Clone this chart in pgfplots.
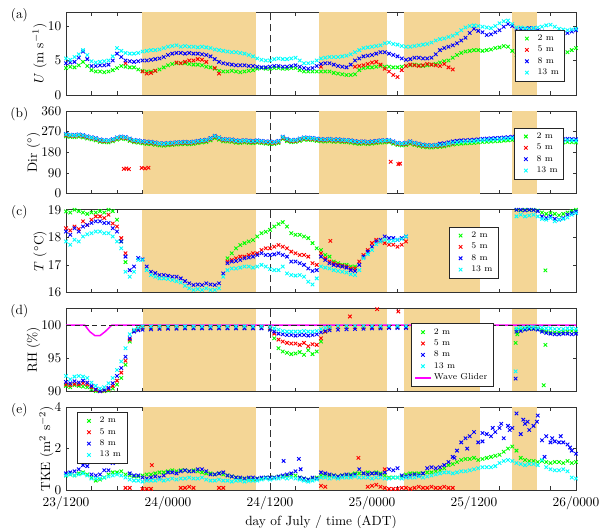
\documentclass[border=0pt]{standalone}
\usepackage{pgfplots}
\pgfplotsset{compat=1.18}
\usepackage{pgfplotstable}
\definecolor{shade}{RGB}{244,214,150}
\definecolor{mgreen}{RGB}{0,255,0}
\definecolor{mred}{RGB}{255,0,0}
\definecolor{mblue}{RGB}{0,0,255}
\definecolor{mcyan}{RGB}{0,255,255}
\definecolor{mmag}{RGB}{255,0,255}

\pgfplotstableread{
h g r b c
0 3.9 nan 4.6 5.3
0.5 4.1 nan 4.7 5.1
1 4.0 nan 4.8 5.5
1.5 4.3 nan 5.4 5.9
2 4.8 nan 6.3 6.5
2.5 4.2 nan 5.2 5.8
3 3.6 nan 4.2 4.9
3.5 3.4 nan 4.2 4.7
4 3.4 nan 4.3 4.8
4.5 3.3 nan 4.3 4.9
5 3.4 nan 4.4 5.0
5.5 3.6 nan 5.0 5.6
6 3.9 nan 6.0 6.8
6.5 4.2 nan 5.5 6.4
7 4.1 4.6 5.0 6.1
7.5 4.0 nan 4.9 6.0
8 4.0 nan 4.8 6.0
8.5 3.7 nan 4.9 6.1
9 3.5 3.4 5.0 6.3
9.5 3.4 3.1 5.0 6.4
10 3.4 3.2 5.1 6.5
10.5 3.5 3.5 5.2 6.5
11 3.7 nan 5.3 6.6
11.5 4.0 nan 5.5 6.8
12 4.3 nan 5.8 7.0
12.5 4.5 nan 6.0 7.1
13 4.6 4.7 6.1 7.2
13.5 4.6 4.6 6.1 7.0
14 4.6 4.8 6.0 7.1
14.5 4.5 5.0 6.1 7.0
15 4.4 5.0 6.0 7.0
15.5 4.4 5.2 6.0 6.9
16 4.3 5.1 5.9 7.0
16.5 4.1 4.8 5.8 6.9
17 4.0 nan 5.6 6.8
17.5 3.8 3.9 5.2 6.6
18 3.5 3.1 4.8 6.5
18.5 3.4 nan 4.6 6.4
19 3.4 nan 4.5 6.3
19.5 3.5 nan 4.4 6.2
20 3.4 nan 4.3 6.2
20.5 3.3 nan 4.3 6.1
21 3.4 nan 4.3 6.0
21.5 3.5 nan 4.2 5.8
22 3.6 nan 4.2 5.6
22.5 3.8 nan 4.1 5.3
23 3.9 nan 4.0 5.1
23.5 3.8 nan 4.0 5.0
24 3.8 nan 4.1 5.0
24.5 3.9 nan 4.2 5.2
25 3.9 nan 4.2 5.3
25.5 3.8 nan 4.1 5.2
26 3.8 nan 4.1 5.2
26.5 3.9 nan 4.2 5.3
27 3.9 nan 4.3 5.4
27.5 3.6 nan 4.1 5.0
28 3.4 nan 3.9 4.6
28.5 3.4 nan 3.8 4.6
29 3.4 nan 3.9 4.7
29.5 3.4 nan 4.2 5.0
30 3.4 4.1 4.5 5.3
30.5 3.4 nan 4.6 5.4
31 3.4 nan 4.6 5.5
31.5 3.2 nan 4.4 5.5
32 3.1 nan 4.2 5.5
32.5 3.0 nan 4.1 5.6
33 2.9 nan 4.0 5.7
33.5 2.9 nan 4.4 5.9
34 3.0 4.1 5.0 6.2
34.5 3.6 4.2 5.3 6.5
35 3.9 4.3 5.6 6.8
35.5 4.0 4.5 5.7 6.9
36 4.0 4.7 5.8 7.0
36.5 4.1 4.8 6.0 7.1
37 4.2 4.4 6.2 7.2
37.5 4.1 3.8 6.2 7.5
38 4.1 3.4 6.0 7.6
38.5 4.0 2.9 5.8 7.4
39 4.0 2.6 5.6 7.3
39.5 4.1 3.6 5.3 7.1
40 4.2 4.2 5.1 7.0
40.5 4.3 4.4 5.2 7.0
41 4.4 4.3 5.4 7.1
41.5 4.3 4.2 5.4 7.2
42 4.2 4.3 5.3 7.3
42.5 4.3 4.5 5.3 7.4
43 4.4 4.4 5.4 7.6
43.5 4.5 4.3 5.9 7.9
44 4.7 4.2 6.5 8.1
44.5 4.9 4.5 6.8 8.2
45 5.0 4.0 7.0 8.4
45.5 5.4 3.7 7.2 8.6
46 5.8 nan 7.5 8.9
46.5 6.1 nan 7.9 9.4
47 6.3 nan 8.3 9.8
47.5 6.4 nan 9.0 10.0
48 6.5 nan 9.6 10.1
48.5 6.5 nan 9.3 10.0
49 6.4 nan 9.1 9.9
49.5 6.5 nan 8.7 9.8
50 6.6 nan 8.8 9.7
50.5 6.8 nan 9.1 10.0
51 6.9 nan 9.4 10.4
51.5 7.1 nan 9.9 10.7
52 7.0 nan 10.3 10.8
52.5 6.4 nan 10.0 10.3
53 5.8 nan 9.5 9.8
53.5 5.7 nan 9.6 9.8
54 5.7 nan 9.6 9.7
54.5 5.6 nan 9.7 9.6
55 5.5 nan 9.7 9.7
55.5 5.4 nan 9.4 9.8
56 5.3 nan 9.2 9.9
56.5 5.4 nan 9.1 10.1
57 5.5 nan 9.0 10.2
57.5 5.6 nan 8.9 9.9
58 5.7 nan 8.8 9.6
58.5 6.0 nan 8.9 9.5
59 6.2 nan 9.0 9.4
59.5 6.5 nan 9.2 9.5
60 6.8 nan 9.4 9.6
}\tabA

\pgfplotstableread{
h g r b c
0 250 255 260 258
0.5 247 252 257 255
1 246 251 256 254
1.5 248 253 258 256
2 245 250 255 253
2.5 240 245 250 248
3 236 241 246 244
3.5 232 237 242 240
4 226 231 236 234
4.5 224 229 234 232
5 223 228 233 231
5.5 228 233 238 236
6 235 240 245 243
6.5 239 244 249 247
7 237 242 247 245
7.5 230 235 240 238
8 224 229 234 232
8.5 222 227 232 230
9 219 224 229 227
9.5 217 222 227 225
10 216 221 226 224
10.5 213 218 223 221
11 210 215 220 218
11.5 209 214 219 217
12 211 216 221 219
12.5 212 217 222 220
13 214 219 224 222
13.5 215 220 225 223
14 216 221 226 224
14.5 215 220 225 223
15 217 222 227 225
15.5 220 225 230 228
16 223 228 233 231
16.5 225 230 235 233
17 232 237 242 240
17.5 242 247 252 250
18 235 240 245 243
18.5 228 233 238 236
19 227 232 237 235
19.5 226 231 236 234
20 222 227 232 230
20.5 221 226 231 229
21 223 228 233 231
21.5 221 226 231 229
22 220 225 230 228
22.5 222 227 232 230
23 220 225 230 228
23.5 218 223 228 226
24 217 222 227 225
24.5 216 221 226 224
25 220 225 230 228
25.5 238 243 248 246
26 229 234 239 237
26.5 224 229 234 232
27 225 230 235 233
27.5 230 235 240 238
28 235 240 245 243
28.5 234 239 244 242
29 233 238 243 241
29.5 230 235 240 238
30 228 233 238 236
30.5 227 232 237 235
31 229 234 239 237
31.5 226 231 236 234
32 227 232 237 235
32.5 225 230 235 233
33 224 229 234 232
33.5 222 227 232 230
34 219 224 229 227
34.5 217 222 227 225
35 218 223 228 226
35.5 216 221 226 224
36 218 223 228 226
36.5 220 225 230 228
37 222 227 232 230
37.5 223 228 233 231
38 224 229 234 232
38.5 218 223 228 226
39 212 217 222 220
39.5 210 215 220 218
40 212 217 222 220
40.5 218 223 228 226
41 212 217 222 220
41.5 208 213 218 216
42 204 209 214 212
42.5 202 207 212 210
43 201 206 211 209
43.5 203 208 213 211
44 204 209 218 212
44.5 206 211 220 214
45 210 215 224 218
45.5 214 219 228 222
46 216 nan 230 224
46.5 218 nan 232 226
47 219 nan 233 227
47.5 220 nan 234 228
48 221 nan 235 229
48.5 223 nan 237 231
49 225 nan 239 233
49.5 226 nan 240 234
50 227 nan 241 235
50.5 228 nan 242 236
51 229 nan 243 237
51.5 231 nan 245 239
52 232 nan 246 240
52.5 234 nan 248 242
53 235 nan 249 243
53.5 236 nan 250 244
54 236 nan 250 244
54.5 235 nan 249 243
55 234 nan 248 242
55.5 232 nan 246 240
56 228 nan 242 236
56.5 226 nan 240 234
57 225 nan 239 233
57.5 224 nan 238 232
58 224 nan 238 232
58.5 223 nan 237 231
59 225 nan 239 233
59.5 224 nan 238 232
60 223 nan 237 231
}\tabB

\pgfplotstableread{
h g r b c
0 18.94 18.33 18.21 17.85
0.5 18.9 18.25 18.09 17.73
1 19.0 18.39 18.33 17.91
1.5 18.95 18.3 18.21 17.85
2 18.9 18.58 18.39 18.03
2.5 18.85 18.45 18.45 18.11
3 18.9 18.64 18.52 18.15
3.5 18.9 18.76 18.58 18.21
4 18.95 18.76 18.58 18.21
4.5 18.9 18.7 18.52 18.15
5 19.0 18.82 18.52 18.15
5.5 18.95 18.5 18.33 18.03
6 18.64 18.39 18.21 17.85
6.5 17.85 17.97 17.85 17.6
7 17.1 17.42 17.3 16.75
7.5 nan nan 16.81 16.57
8 nan nan 16.94 16.75
8.5 nan nan 17.25 17.18
9 nan nan 17.2 17.18
9.5 nan nan 16.94 16.81
10 nan nan 16.75 16.63
10.5 nan nan 16.7 16.57
11 nan nan 16.63 16.51
11.5 nan nan 16.63 16.51
12 nan nan 16.6 16.49
12.5 nan nan 16.57 16.45
13 nan nan 16.57 16.41
13.5 nan nan 16.51 16.36
14 nan nan 16.41 16.24
14.5 nan nan 16.33 16.15
15 nan nan 16.27 16.09
15.5 nan nan 16.29 16.12
16 nan nan 16.27 16.09
16.5 nan nan 16.33 16.15
17 nan nan 16.29 16.09
17.5 nan nan 16.27 16.09
18 nan nan 16.33 16.15
18.5 nan nan 16.69 16.57
19 17.24 17.12 17.06 16.81
19.5 17.42 17.18 17.12 16.87
20 17.6 17.24 17.14 16.87
20.5 17.72 17.3 17.18 16.9
21 17.79 17.3 17.24 16.94
21.5 17.85 17.36 17.27 16.94
22 17.9 17.42 17.3 16.9
22.5 18.03 17.42 17.36 16.94
23 18.15 17.54 17.42 17.0
23.5 18.2 17.6 17.36 16.94
24 18.27 17.6 17.36 16.85
24.5 18.39 17.66 17.38 16.81
25 18.48 17.72 17.42 16.81
25.5 18.55 17.66 17.36 16.94
26 18.39 17.6 17.3 16.69
26.5 18.15 17.48 17.12 16.63
27 18.09 17.42 17.12 16.61
27.5 18.09 17.36 17.06 16.63
28 18.03 17.36 17.0 16.57
28.5 17.97 17.3 16.87 16.39
29 17.79 17.06 16.78 16.29
29.5 17.6 17.0 16.81 16.51
30 17.54 17.42 17.3 16.94
30.5 17.36 17.24 17.18 16.9
31 17.3 17.12 17.06 16.87
31.5 17.12 17.06 17.0 16.81
32 17.06 17.0 16.97 16.78
32.5 17.0 16.97 16.94 16.75
33 17.0 16.94 16.9 16.72
33.5 16.94 16.87 16.81 16.66
34 16.94 16.87 16.78 16.63
34.5 nan 17.12 17.0 16.81
35 nan 17.36 17.3 17.24
35.5 nan 17.54 17.48 17.39
36 nan 17.79 17.66 17.54
36.5 nan 17.91 17.85 17.75
37 nan 17.85 17.91 17.85
37.5 nan 17.79 18.03 17.91
38 nan 17.73 17.97 17.85
38.5 nan 17.73 17.97 17.88
39 nan 17.66 17.91 17.91
39.5 nan 17.73 17.97 17.94
40 nan 17.85 18.03 18.03
53 19.0 nan 19.0 18.76
53.5 18.98 nan 19.0 18.82
54 19.0 nan 18.98 18.76
54.5 18.99 nan 19.0 18.79
55 19.0 nan 18.99 18.82
55.5 18.97 nan 18.95 18.76
56 18.9 nan 18.76 18.67
56.5 18.85 nan 18.7 18.64
57 18.88 nan 18.76 18.7
57.5 18.85 nan 18.67 18.58
58 18.8 nan 18.64 18.64
58.5 18.85 nan 18.7 18.67
59 18.9 nan 18.82 18.72
59.5 18.95 nan 18.88 18.82
60 19.0 nan 18.94 18.88
}\tabC

\pgfplotstableread{
h g r b c
0 90.8 91.0 91.4 92.3
0.5 90.6 90.9 91.2 91.8
1 90.9 91.1 91.5 92.2
1.5 90.8 91.0 91.3 92.3
2 90.7 91.2 91.6 92.2
2.5 90.6 91.0 91.3 92.0
3 90.3 90.6 90.8 91.3
3.5 90.0 90.2 90.3 90.8
4 89.9 90.0 90.0 90.4
4.5 90.0 90.1 90.2 90.6
5 90.1 90.3 90.5 91.2
5.5 90.4 90.8 91.2 92.0
6 91.0 91.6 92.3 93.2
6.5 92.0 92.8 93.5 94.5
7 94.0 94.6 95.2 96.5
7.5 97.5 97.8 98.0 98.6
8 99.2 99.1 99.0 99.3
8.5 99.5 99.4 99.2 99.6
9 99.6 99.6 99.3 99.8
10 99.6 99.6 99.35 99.8
11 99.6 99.6 99.4 99.8
12 99.6 99.6 99.45 99.8
13 99.6 99.6 99.45 99.8
14 99.6 99.6 99.5 99.8
15 99.6 99.6 99.5 99.8
16 99.6 99.6 99.5 99.8
17 99.6 99.6 99.5 99.8
18 99.6 99.6 99.5 99.8
19 99.6 99.6 99.5 99.8
20 99.6 99.6 99.5 99.8
21 99.6 99.6 99.5 99.8
22 99.6 99.6 99.5 99.8
23 99.6 99.6 99.5 99.8
24 99.4 99.5 99.3 99.7
24.5 98.0 98.7 99.0 99.5
25 96.5 97.8 98.7 99.3
25.5 96.0 97.5 98.6 99.1
26 95.8 97.3 98.5 99.0
26.5 95.6 97.2 98.5 99.0
27 95.7 97.2 98.4 99.0
27.5 95.9 97.0 98.5 99.0
28 95.5 97.3 98.5 99.1
28.5 96.2 96.8 98.4 99.0
29 95.6 97.1 98.5 99.0
29.5 96.0 97.0 98.6 99.1
30 97.5 98.0 98.9 99.4
30.5 99.0 99.0 99.1 99.6
31 99.5 99.5 99.2 99.7
32 99.7 99.7 99.3 99.85
33 99.7 99.7 99.35 99.85
34 99.7 99.7 99.4 99.85
35 99.7 99.7 99.45 99.85
36 99.7 99.7 99.5 99.85
37 99.7 99.7 99.5 99.85
38 99.7 99.7 99.55 99.85
39 99.7 99.7 99.55 99.85
40 99.7 99.7 99.55 99.85
53 99.3 nan 99.0 99.5
53.5 99.3 nan 99.1 99.6
54 99.4 nan 99.3 99.6
54.5 99.5 nan 99.4 99.7
55 99.5 nan 99.4 99.7
55.5 99.4 nan 99.3 99.6
56 99.2 nan 99.0 99.6
56.5 99.0 nan 98.8 99.5
57 98.9 nan 98.7 99.5
57.5 98.9 nan 98.6 99.4
58 98.9 nan 98.6 99.4
58.5 99.0 nan 98.7 99.4
59 99.0 nan 98.7 99.5
59.5 99.1 nan 98.6 99.5
60 99.0 nan 98.7 99.4
}\tabD

\pgfplotstableread{
h g r b c
0 0.7 nan 0.8 0.7
0.5 0.75 nan 0.85 0.75
1 0.7 nan 0.9 0.7
1.5 0.8 nan 1.0 0.75
2 0.85 nan 1.2 0.8
2.5 0.75 nan 1.15 0.7
3 0.6 nan 0.75 0.55
3.5 0.45 nan 0.7 0.55
4 0.5 nan 0.75 0.55
4.5 0.6 nan 0.95 0.6
5 0.75 nan 0.95 0.65
5.5 0.85 nan 1.3 0.7
6 0.85 nan 1.35 0.75
6.5 0.9 nan 1.4 0.7
7 0.75 0.1 1.5 0.6
7.5 0.7 0.1 0.8 0.5
8 0.65 nan 0.7 0.45
8.5 0.65 nan 0.7 0.45
9 0.7 0.05 0.6 0.4
9.5 0.75 0.05 0.55 0.45
10 0.75 0.05 0.6 0.45
10.5 0.8 nan 0.65 0.45
11 0.85 nan 0.6 0.5
11.5 0.85 nan 0.7 0.45
12 0.9 nan 0.85 0.5
12.5 0.95 nan 0.85 0.55
13 0.9 nan 0.8 0.5
13.5 0.95 0.1 0.9 0.55
14 0.95 0.1 0.95 0.55
14.5 0.9 0.15 0.9 0.6
15 0.95 0.1 0.9 0.55
15.5 0.9 nan 1.0 0.55
16 0.85 nan 1.0 0.6
16.5 0.8 nan 0.9 0.5
17 0.8 nan 0.75 0.45
17.5 0.75 nan 0.75 0.45
18 0.8 0.1 0.8 0.5
18.5 0.75 0.1 0.85 0.45
19 0.7 nan 0.7 0.45
19.5 0.65 nan 0.65 0.4
20 0.6 nan 0.6 0.45
20.5 0.55 nan 0.6 0.45
21 0.55 nan 0.55 0.4
21.5 0.55 nan 0.6 0.45
22 0.5 nan 0.6 0.45
22.5 0.55 nan 0.55 0.45
23 0.55 nan 0.6 0.5
23.5 0.6 nan 0.6 0.55
24 0.6 nan 0.6 0.5
24.5 0.6 nan 0.6 0.55
25 0.65 nan 0.65 0.55
25.5 0.65 nan 0.7 0.6
26 0.7 nan 0.75 0.55
26.5 0.7 nan 0.8 0.6
27 0.7 nan 0.9 0.55
27.5 0.6 nan 0.6 0.5
28 0.55 nan 0.55 0.45
28.5 0.5 nan 0.5 0.4
29 0.55 nan 0.6 0.45
29.5 0.6 nan 0.55 0.5
30 0.7 0.2 0.85 0.6
30.5 0.7 0.15 0.8 0.6
31 0.7 nan 0.75 0.55
31.5 0.7 nan 0.7 0.6
32 0.65 nan 0.65 0.55
32.5 0.7 nan 0.7 0.6
33 0.7 nan 0.75 0.6
33.5 0.75 nan 0.7 0.6
34 0.8 nan 0.75 0.65
34.5 0.8 nan 1.0 0.6
35 0.8 nan 0.8 0.6
35.5 0.85 0.15 0.75 0.6
36 0.8 0.2 0.8 0.55
36.5 0.85 0.25 0.8 0.6
37 0.8 0.15 0.75 0.6
37.5 0.7 0.1 0.85 0.55
38 0.6 0.05 1.0 0.55
38.5 0.6 0.05 0.95 0.6
39 0.6 0.05 1.05 0.6
39.5 0.65 0.1 0.7 0.55
40 0.75 0.1 0.65 0.6
40.5 0.8 0.05 0.7 0.6
41 0.8 0.1 0.75 0.6
41.5 0.8 0.15 0.7 0.65
42 0.8 0.1 0.8 0.6
42.5 0.85 0.1 1.05 0.65
43 0.85 0.15 1.1 0.7
43.5 0.9 0.1 1.05 0.75
44 0.95 0.1 1.1 0.8
44.5 1.05 0.15 1.2 0.85
45 1.2 0.1 1.35 0.85
45.5 1.25 0.1 1.6 0.8
46 1.35 nan 1.9 0.85
46.5 1.45 nan 2.3 0.9
47 1.5 nan 2.5 0.9
47.5 1.5 nan 2.6 0.95
48 1.55 nan 2.8 1.0
48.5 1.45 nan 2.3 1.05
49 1.5 nan 2.35 1.1
49.5 1.55 nan 2.7 1.1
50 1.6 nan 2.6 1.1
50.5 1.65 nan 2.8 1.15
51 1.7 nan 3.0 1.3
51.5 1.85 nan 2.5 1.4
52 2.0 nan 3.1 1.45
52.5 2.1 nan 3.0 1.4
53 1.9 nan 3.7 1.3
53.5 1.55 nan 2.7 1.25
54 1.45 nan 3.2 1.2
54.5 1.4 nan 2.9 1.25
55 1.4 nan 3.1 1.25
55.5 1.35 nan 3.6 1.2
56 1.4 nan 2.4 1.45
56.5 1.35 nan 2.6 1.1
57 1.3 nan 2.3 1.0
57.5 1.35 nan 2.35 0.95
58 1.35 nan 2.3 0.95
58.5 1.3 nan 2.3 1.0
59 1.4 nan 2.2 0.9
59.5 1.3 nan 1.9 0.6
60 1.35 nan 1.75 0.55
}\tabE

\newcommand{\shades}[2]{%
\addplot[fill=shade, draw=none, forget plot] coordinates {(9,#1) (22.3,#1) (22.3,#2) (9,#2)} -- cycle;
\addplot[fill=shade, draw=none, forget plot] coordinates {(29.8,#1) (37.8,#1) (37.8,#2) (29.8,#2)} -- cycle;
\addplot[fill=shade, draw=none, forget plot] coordinates {(39.8,#1) (48.7,#1) (48.7,#2) (39.8,#2)} -- cycle;
\addplot[fill=shade, draw=none, forget plot] coordinates {(52.5,#1) (55.4,#1) (55.4,#2) (52.5,#2)} -- cycle;
\addplot[black!80, dash pattern=on 5pt off 3pt, line width=0.6pt, forget plot] coordinates {(24,#1) (24,#2)};
}

\pgfplotsset{
  panel/.style={
    width=382.5pt, height=62pt, scale only axis,
    xmin=0, xmax=60, xtick={0,3,...,60}, xticklabels={},
    tick align=inside, major tick length=2.6pt,
    axis line style={line width=0.6pt, black!80},
    every tick/.style={black!80, line width=0.5pt},
    ylabel style={yshift=-6pt},
    legend style={draw=black!85, line width=0.6pt, fill=white,
      font=\fontsize{6.5}{7.5}\selectfont,
      inner xsep=2.5pt, inner ysep=1.5pt, row sep=-1.3pt},
    legend cell align=left,
  },
  ser/.style={only marks, mark=x, mark size=1.85pt, mark options={line width=0.7pt},
    legend image code/.code={\path (0cm,0cm) (0.4cm,0cm); \draw[##1] plot coordinates {(0.2cm,0cm)};}},
  lineleg/.style={legend image code/.code={\draw[draw=mmag, line width=1.2pt] (0cm,0cm) -- (0.4cm,0cm);}},
}

\begin{document}
\begin{tikzpicture}
\useasboundingbox (0,0) rectangle (456pt,-396pt);

% (a)
\begin{axis}[panel, name=pa, at={(49.5pt,-9.2pt)}, anchor=north west,
  ymin=0, ymax=12, ytick={0,5,10}, ylabel={$U$ (m s$^{-1}$)},
  legend style={at={(0.979,0.79)}, anchor=north east}]
\shades{0}{12}
\addplot[ser, mgreen] table[x=h, y=g] {\tabA}; \addlegendentry{2 m}
\addplot[ser, mred] table[x=h, y=r] {\tabA}; \addlegendentry{5 m}
\addplot[ser, mblue] table[x=h, y=b] {\tabA}; \addlegendentry{8 m}
\addplot[ser, mcyan] table[x=h, y=c] {\tabA}; \addlegendentry{13 m}
\end{axis}
\node at ([xshift=-35pt, yshift=-2pt]pa.north west) {(a)};

% (b)
\begin{axis}[panel, name=pb, at={(49.5pt,-83.26pt)}, anchor=north west,
  ymin=0, ymax=360, ytick={0,90,180,270,360}, ylabel={Dir ($^\circ$)},
  legend style={at={(0.977,0.80)}, anchor=north east}]
\shades{0}{360}
\addplot[ser, mgreen] table[x=h, y=g] {\tabB}; \addlegendentry{2 m}
\addplot[ser, mred] table[x=h, y=r] {\tabB}; \addlegendentry{5 m}
\addplot[ser, mblue] table[x=h, y=b] {\tabB}; \addlegendentry{8 m}
\addplot[ser, mcyan] table[x=h, y=c] {\tabB}; \addlegendentry{13 m}
\addplot[ser, mred, forget plot] coordinates {(6.8,108) (7.1,110) (7.4,107) (8.9,112) (9.3,110) (9.7,113) (38.2,139) (39.1,129) (39.3,131)};
\end{axis}
\node at ([xshift=-35pt, yshift=-2pt]pb.north west) {(b)};

% (c)
\begin{axis}[panel, name=pc, at={(49.5pt,-157.32pt)}, anchor=north west,
  ymin=16, ymax=19, ytick={16,17,18,19}, ylabel={$T$ ($^\circ$C)},
  legend style={at={(0.849,0.796)}, anchor=north east}]
\shades{16}{19}
\addplot[ser, mgreen] table[x=h, y=g] {\tabC}; \addlegendentry{2 m}
\addplot[ser, mred] table[x=h, y=r] {\tabC}; \addlegendentry{5 m}
\addplot[ser, mblue] table[x=h, y=b] {\tabC}; \addlegendentry{8 m}
\addplot[ser, mcyan] table[x=h, y=c] {\tabC}; \addlegendentry{13 m}
\addplot[ser, mred, forget plot] coordinates {(31.1,17.87)};
\addplot[ser, mgreen, forget plot] coordinates {(56.4,16.8)};
\end{axis}
\node at ([xshift=-35pt, yshift=-2pt]pc.north west) {(c)};

% (d)
\begin{axis}[panel, name=pd, at={(49.5pt,-231.38pt)}, anchor=north west,
  ymin=90, ymax=102.5, ytick={90,95,100}, ylabel={RH (\%)},
  legend style={at={(0.839,0.822)}, anchor=north east}]
\shades{90}{102.5}
\addplot[ser, mgreen] table[x=h, y=g] {\tabD}; \addlegendentry{2 m}
\addplot[ser, mred] table[x=h, y=r] {\tabD}; \addlegendentry{5 m}
\addplot[ser, mblue] table[x=h, y=b] {\tabD}; \addlegendentry{8 m}
\addplot[ser, mcyan] table[x=h, y=c] {\tabD}; \addlegendentry{13 m}
\addplot[mmag, line width=1.1pt, lineleg] coordinates {(0,100) (2.2,100) (2.8,99.0) (3.4,98.4) (4.0,98.4) (4.6,99.0) (5.4,100) (60,100)}; \addlegendentry{Wave Glider}
\addplot[black!85, dash pattern=on 4pt off 2.5pt, line width=0.6pt, forget plot] coordinates {(0,100) (60,100)};
\addplot[ser, mred, forget plot] coordinates {(33.4,101.3) (36.6,102.4) (39.1,102.05)};
\addplot[ser, mgreen, forget plot] coordinates {(52.9,97.3) (53.1,98.6) (56.4,97.0) (56.2,90.9)};
\addplot[ser, mcyan, forget plot] coordinates {(52.9,93.0)};
\addplot[ser, mblue, forget plot] coordinates {(52.9,91.9)};
\end{axis}
\node at ([xshift=-35pt, yshift=-2pt]pd.north west) {(d)};

% (e)
\begin{axis}[panel, name=pe, at={(49.5pt,-305.44pt)}, anchor=north west,
  ymin=0, ymax=4, ytick={0,2,4}, ylabel={TKE (m$^2$ s$^{-2}$)},
  xticklabels={23/1200,,,,24/0000,,,,24/1200,,,,25/0000,,,,25/1200,,,,26/0000},
  xticklabel style={yshift=-1.5pt},
  xlabel={day of July / time (ADT)}, xlabel style={yshift=3pt},
  legend style={at={(0.022,0.943)}, anchor=north west}]
\shades{0}{4}
\addplot[ser, mgreen] table[x=h, y=g] {\tabE}; \addlegendentry{2 m}
\addplot[ser, mred] table[x=h, y=r] {\tabE}; \addlegendentry{5 m}
\addplot[ser, mblue] table[x=h, y=b] {\tabE}; \addlegendentry{8 m}
\addplot[ser, mcyan] table[x=h, y=c] {\tabE}; \addlegendentry{13 m}
\addplot[ser, mred, forget plot] coordinates {(10.1,1.2) (34.4,1.55) (37.5,1.0)};
\addplot[ser, mblue, forget plot] coordinates {(25.6,1.4) (27.4,1.5) (27.6,1.0) (45.7,1.55) (47.2,2.0) (49,2.75) (50.2,3.0) (51.2,3.2) (52.2,2.9) (53.8,3.4) (54.3,3.3) (55.4,3.3) (56.3,1.6) (57.2,2.5) (58.2,2.6) (59.3,2.05)};
\end{axis}
\node at ([xshift=-35pt, yshift=-2pt]pe.north west) {(e)};
\end{tikzpicture}
\end{document}
